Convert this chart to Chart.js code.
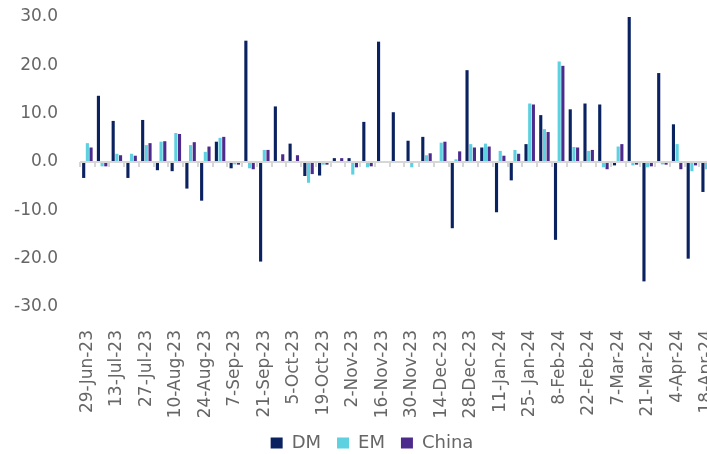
<!DOCTYPE html>
<html>
<head>
<meta charset="utf-8">
<script src="https://cdn.jsdelivr.net/npm/chart.js@4/dist/chart.umd.min.js"></script>
<style>
  html, body { margin: 0; padding: 0; background: #fff; overflow: hidden; }
  #wrap { width: 744px; height: 454px; }
</style>
</head>
<body>
<div id="wrap"><canvas id="flowsChart" width="744" height="454"></canvas></div>
<script>
// weekly dates
const weeks = [
  '29-Jun-23', '6-Jul-23', '13-Jul-23', '20-Jul-23', '27-Jul-23', '3-Aug-23',
  '10-Aug-23', '17-Aug-23', '24-Aug-23', '31-Aug-23', '7-Sep-23', '14-Sep-23',
  '21-Sep-23', '28-Sep-23', '5-Oct-23', '12-Oct-23', '19-Oct-23', '26-Oct-23',
  '2-Nov-23', '9-Nov-23', '16-Nov-23', '23-Nov-23', '30-Nov-23', '7-Dec-23',
  '14-Dec-23', '21-Dec-23', '28-Dec-23', '4-Jan-24', '11-Jan-24', '18-Jan-24',
  '25- Jan-24', '1-Feb-24', '8-Feb-24', '15-Feb-24', '22-Feb-24', '29-Feb-24',
  '7-Mar-24', '14-Mar-24', '21-Mar-24', '28-Mar-24', '4-Apr-24', '11-Apr-24',
  '18-Apr-24'
];

const dm = [
  -3.3, 13.7, 8.5, -3.3, 8.7, -1.7, -1.9, -5.5, -8.0, 4.2, -1.3, 25.1,
  -20.6, 11.5, 3.8, -2.9, -2.8, 0.8, 0.8, 8.3, 24.9, 10.3, 4.4, 5.2,
  0, -13.7, 19.0, 3.0, -10.4, -3.8, 3.7, 9.7, -16.1, 10.9, 12.1, 11.9,
  -0.7, 30.1, -24.7, 18.4, 7.8, -20.0, -6.2
];

const em = [
  3.9, -0.9, 1.7, 1.7, 3.5, 4.2, 6.0, 3.5, 2.1, 5.0, -0.5, -1.3,
  2.5, 0, 0, -4.3, -0.55, 0, -2.6, -1.1, 0, 0, -1.1, 1.4,
  4.0, 0.55, 3.7, 3.8, 2.3, 2.5, 12.1, 6.8, 20.8, 3.1, 2.3, -1.1,
  3.2, -0.7, -1.1, -0.5, 3.7, -1.9, -1.5
];

const china = [
  3.0, -0.9, 1.4, 1.3, 3.9, 4.3, 5.8, 4.1, 3.2, 5.2, -0.55, -1.5,
  2.5, 1.6, 1.4, -2.5, -0.55, 0.8, -1.1, -0.9, 0, 0, 0, 1.8,
  4.2, 2.2, 3.0, 3.2, 1.3, 1.7, 11.9, 6.2, 19.9, 3.0, 2.5, -1.5,
  3.7, -0.55, -0.9, -0.55, -1.5, -0.7, -1.0
];

const yTicks = [-30, -20, -10, 0, 10, 20, 30];

const textGrey = '#666666';
const axisGrey = '#d6d6d6';
const fontFamily = "'DejaVu Sans', sans-serif";

const ctx = document.getElementById('flowsChart').getContext('2d');

const barStyle = { categoryPercentage: 0.75, barPercentage: 0.85, borderWidth: 0 };

new Chart(ctx, {
  type: 'bar',
  data: {
    labels: weeks,
    datasets: [
      { label: 'DM', data: dm, backgroundColor: '#0b2260', ...barStyle },
      { label: 'EM', data: em, backgroundColor: '#5dd1df', ...barStyle },
      { label: 'China', data: china, backgroundColor: '#4d2b8c', ...barStyle }
    ]
  },
  options: {
    responsive: false,
    animation: false,
    layout: { padding: { left: 0, right: 0, top: 17, bottom: -8 } },
    plugins: {
      legend: {
        position: 'bottom',
        labels: {
          boxWidth: 12,
          boxHeight: 11,
          padding: 16,
          color: textGrey,
          font: { family: fontFamily, size: 18 }
        }
      },
      tooltip: { enabled: false }
    },
    scales: {
      x: {
        grid: { display: false },
        border: { display: false },
        ticks: {
          autoSkip: false,
          minRotation: 90,
          maxRotation: 90,
          padding: 15,
          color: textGrey,
          font: { family: fontFamily, size: 17 },
          callback: (v, i) => (i % 2 === 0 ? weeks[i] : '')
        },
        afterFit: (s) => { s.height = 111; }
      },
      // tick marks on the zero line
      x2: {
        axis: 'x',
        type: 'category',
        position: { y: 0 },
        offset: true,
        grid: {
          offset: true,
          drawOnChartArea: false,
          drawTicks: true,
          tickLength: 5,
          color: axisGrey,
          lineWidth: 2
        },
        border: { display: false },
        ticks: { display: false }
      },
      y: {
        min: -30,
        max: 30,
        afterBuildTicks: (s) => { s.ticks = yTicks.map(v => ({ value: v })); },
        grid: {
          drawTicks: true,
          tickLength: 19,
          tickColor: 'rgba(0,0,0,0)',
          lineWidth: 2,
          color: (c) => (c.tick && c.tick.value === 0 ? axisGrey : 'rgba(0,0,0,0)')
        },
        border: { display: false },
        ticks: {
          padding: 3,
          color: textGrey,
          font: { family: fontFamily, size: 17 },
          callback: (v) => v.toFixed(1)
        },
        afterFit: (s) => { s.width = 80; }
      },
      // empty right-hand space so the plot runs past the picture edge
      yRight: {
        axis: 'y',
        type: 'linear',
        position: 'right',
        grid: { display: false },
        border: { display: false },
        ticks: { display: false },
        afterFit: (s) => { s.width = 30; }
      }
    }
  }
});
</script>
</body>
</html>
